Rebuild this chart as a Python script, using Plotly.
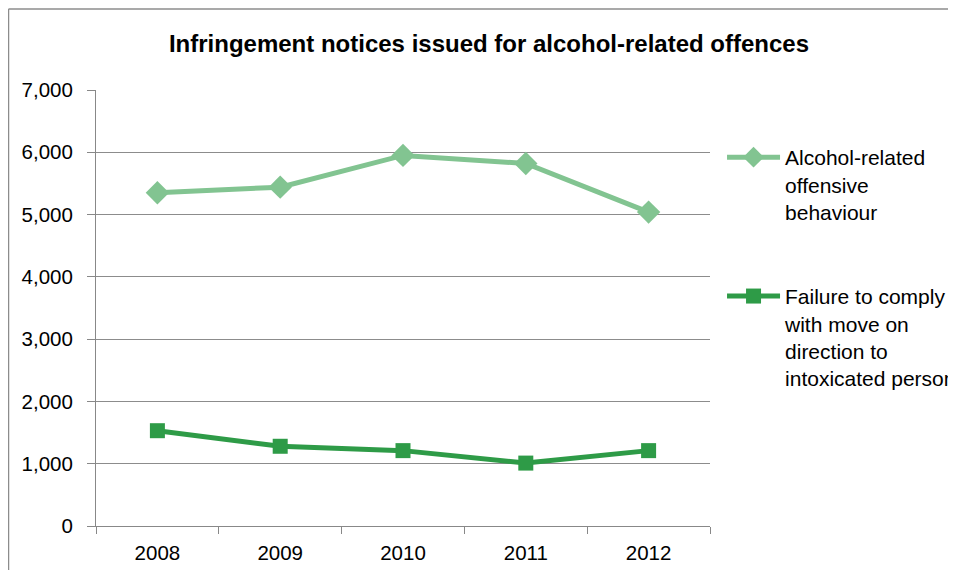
import plotly.graph_objects as go

years = ["2008", "2009", "2010", "2011", "2012"]
alcohol_offensive = [5350, 5440, 5950, 5820, 5040]
failure_move_on = [1530, 1280, 1210, 1010, 1210]
y_ticks = [0, 1000, 2000, 3000, 4000, 5000, 6000, 7000]
y_tick_labels = ["0", "1,000", "2,000", "3,000", "4,000", "5,000", "6,000", "7,000"]

name_a = "Alcohol-related<br>offensive<br>behaviour"
name_b = "Failure to comply<br>with move on<br>direction to<br>intoxicated person"

fig = go.Figure()
fig.add_trace(go.Scatter(
    x=years, y=alcohol_offensive, name=name_a, mode="lines+markers",
    line=dict(color="#82C491", width=5),
    marker=dict(symbol="diamond", size=18, color="#82C491"),
    legendgroup="a",
))
fig.add_trace(go.Scatter(
    x=years, y=failure_move_on, name=name_b, mode="lines+markers",
    line=dict(color="#2E9B47", width=5),
    marker=dict(symbol="square", size=15, color="#2E9B47"),
    legendgroup="b",
))

fig.update_layout(
    width=948, height=562,
    margin=dict(l=88, r=246, t=82, b=44),
    paper_bgcolor="white", plot_bgcolor="white",
    font=dict(family="Liberation Sans, Arial, sans-serif", size=20.5, color="black"),
    title=dict(text="<b>Infringement notices issued for alcohol-related offences</b>",
               x=0.5074, xanchor="center", y=1 - 36 / 562, yanchor="middle",
               font=dict(size=24, color="black")),
    showlegend=True,
    legend=dict(xref="container", yref="container",
                x=0.7532, xanchor="left", y=1 - 129 / 562, yanchor="top",
                traceorder="grouped", tracegroupgap=54,
                bgcolor="rgba(0,0,0,0)", font=dict(size=21),
                valign="top", itemwidth=53),
    xaxis=dict(showgrid=False, showline=True, linecolor="#888888", linewidth=1,
               ticks="outside", ticklen=7, tickcolor="#888888", tickson="boundaries",
               ticklabelstandoff=8, range=[-0.5, 4.5], fixedrange=True,
               automargin=False),
    yaxis=dict(range=[0, 7000], tickvals=y_ticks, ticktext=y_tick_labels,
               showgrid=True, gridcolor="#8c8c8c", gridwidth=1,
               showline=True, linecolor="#888888", linewidth=1,
               ticks="outside", ticklen=8, tickcolor="#888888",
               ticklabelstandoff=10, zeroline=False, automargin=False),
    shapes=[
        dict(type="line", xref="paper", yref="paper",
             x0=-0.1425, x1=1.6, y0=1.1858, y1=1.1858,
             line=dict(color="#8c8c8c", width=1.5)),
        dict(type="line", xref="paper", yref="paper",
             x0=-0.1425, x1=-0.1425, y0=-0.3, y1=1.1858,
             line=dict(color="#8c8c8c", width=1.5)),
    ],
)

fig.write_html("out.html")
